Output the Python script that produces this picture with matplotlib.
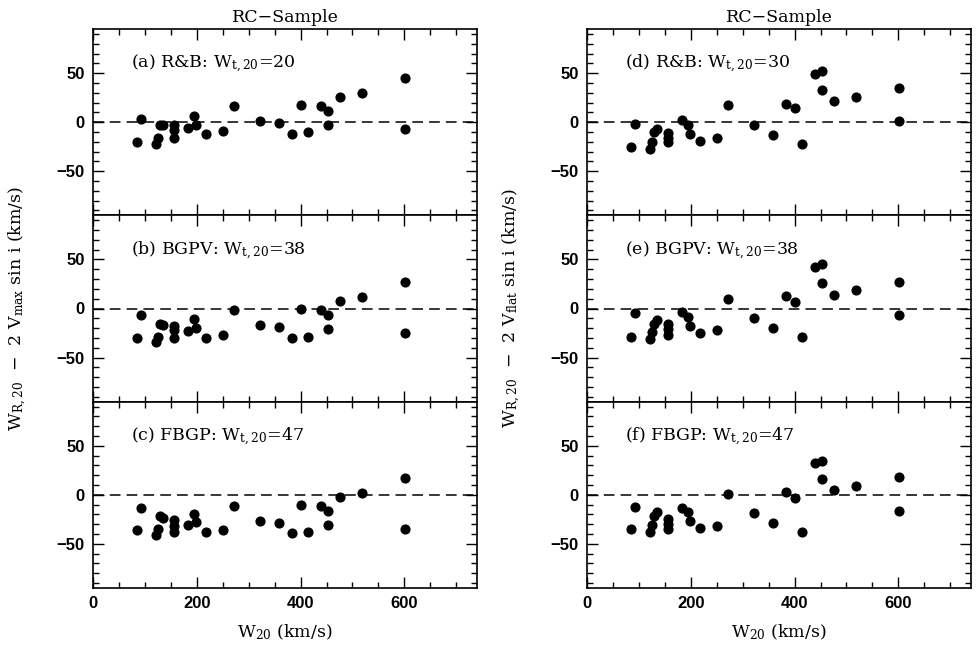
import matplotlib
matplotlib.use("Agg")
import matplotlib.pyplot as plt
from matplotlib.ticker import MultipleLocator

# ---- data ----
w20 = [84, 93, 121, 126, 129, 134, 157, 157, 157, 184, 194, 199, 217, 250,
       271, 322, 359, 383, 401, 414, 439, 452, 452, 476, 518, 602, 602]

dv_a = [-20, 3, -22, -16, -3, -3, -3, -8, -16, -6, 6, -3, -12, -9,
        16, 1, -1, -12, 18, -10, 16, 11, -3, 26, 30, 45, -7]
dv_b = [-30, -7, -34, -29, -16, -17, -18, -22, -30, -23, -11, -20, -30, -27,
        -2, -17, -19, -30, -1, -29, -2, -7, -21, 8, 12, 27, -25]
dv_c = [-36, -13, -41, -35, -22, -24, -26, -32, -38, -31, -20, -28, -38, -36,
        -11, -27, -29, -39, -10, -38, -11, -16, -31, -2, 2, 17, -35]
dv_d = [-25, -2, -27, -20, -10, -7, -11, -16, -20, 2, -3, -12, -19, -16,
        17, -3, -13, 19, 14, -22, 49, 52, 33, 22, 26, 35, 1]
dv_e = [-29, -5, -31, -24, -16, -12, -16, -21, -27, -4, -9, -18, -25, -22,
        10, -10, -20, 13, 7, -29, 42, 45, 26, 14, 19, 27, -7]
dv_f = [-35, -12, -38, -31, -22, -18, -25, -30, -35, -13, -17, -27, -34, -32,
        1, -19, -29, 3, -3, -38, 32, 35, 16, 5, 9, 18, -16]

panel_labels = [["(a) R&B: ", "20"], ["(b) BGPV: ", "38"], ["(c) FBGP: ", "47"],
                ["(d) R&B: ", "30"], ["(e) BGPV: ", "38"], ["(f) FBGP: ", "47"]]
columns = [[dv_a, dv_b, dv_c], [dv_d, dv_e, dv_f]]
col_titles = ["RC\u2212Sample", "RC\u2212Sample"]
ylabels = [r"W$_{\mathregular{R,20}}$  $-$  2 V$_{\mathregular{max}}$ sin i (km/s)",
           r"W$_{\mathregular{R,20}}$  $-$  2 V$_{\mathregular{flat}}$ sin i (km/s)"]
xlabel = r"W$_{\mathregular{20}}$ (km/s)"
xticks = [0, 200, 400, 600]
yticks = [-50, 0, 50]

plt.rcParams['mathtext.fontset'] = 'dejavuserif'
serif = "DejaVu Serif"
sans = "Liberation Sans"

fig = plt.figure(figsize=(9.79, 6.48), dpi=100)

lefts = [93 / 979, 587 / 979]
width = 384 / 979
top = 1 - 29 / 648
bottom = 1 - 588 / 648
ph = (top - bottom) / 3

for ci in range(2):
    axes = []
    for ri in range(3):
        ax = fig.add_axes([lefts[ci], top - (ri + 1) * ph, width, ph])
        axes.append(ax)
        dv = columns[ci][ri]
        ax.axhline(0, color='black', lw=1.1, ls=(0, (7, 4)), zorder=1)
        ax.plot(w20, dv, 'o', color='black', ms=6.3, zorder=3)
        ax.set_xlim(0, 740)
        ax.set_ylim(-95, 95)
        ax.xaxis.set_major_locator(MultipleLocator(200))
        ax.xaxis.set_minor_locator(MultipleLocator(50))
        ax.yaxis.set_major_locator(MultipleLocator(50))
        ax.yaxis.set_minor_locator(MultipleLocator(10))
        ax.tick_params(which='both', direction='in', top=True, right=True,
                       width=1.0, colors='black')
        ax.tick_params(which='major', length=8, pad=6)
        ax.tick_params(which='minor', length=4)
        for s in ax.spines.values():
            s.set_linewidth(1.2)
        ax.set_yticks(yticks)
        ax.set_yticklabels([("\u2212%d" % -v) if v < 0 else str(v) for v in yticks],
                           fontfamily=sans, fontsize=12, fontweight='bold')
        if ri < 2:
            ax.set_xticklabels([])
        else:
            ax.set_xticks(xticks)
            ax.set_xticklabels([str(v) for v in xticks], fontfamily=sans,
                               fontsize=12, fontweight='bold')
            ax.set_xlabel(xlabel, fontfamily=serif, fontsize=12.5, labelpad=8)
        lab = panel_labels[ci * 3 + ri]
        ax.text(0.1, 0.81, lab[0] + r"W$_{\mathregular{t,20}}$=" + lab[1],
                transform=ax.transAxes, fontfamily=serif, fontsize=12.5,
                va='center', ha='left')
    axes[0].set_title(col_titles[ci], fontfamily=serif, fontsize=12.5, pad=5)
    fig.text(lefts[ci] - 75 / 979, (top + bottom) / 2, ylabels[ci], rotation=90,
             fontfamily=serif, fontsize=12.5, ha='center', va='center')

fig.savefig("out.png", dpi=100)
